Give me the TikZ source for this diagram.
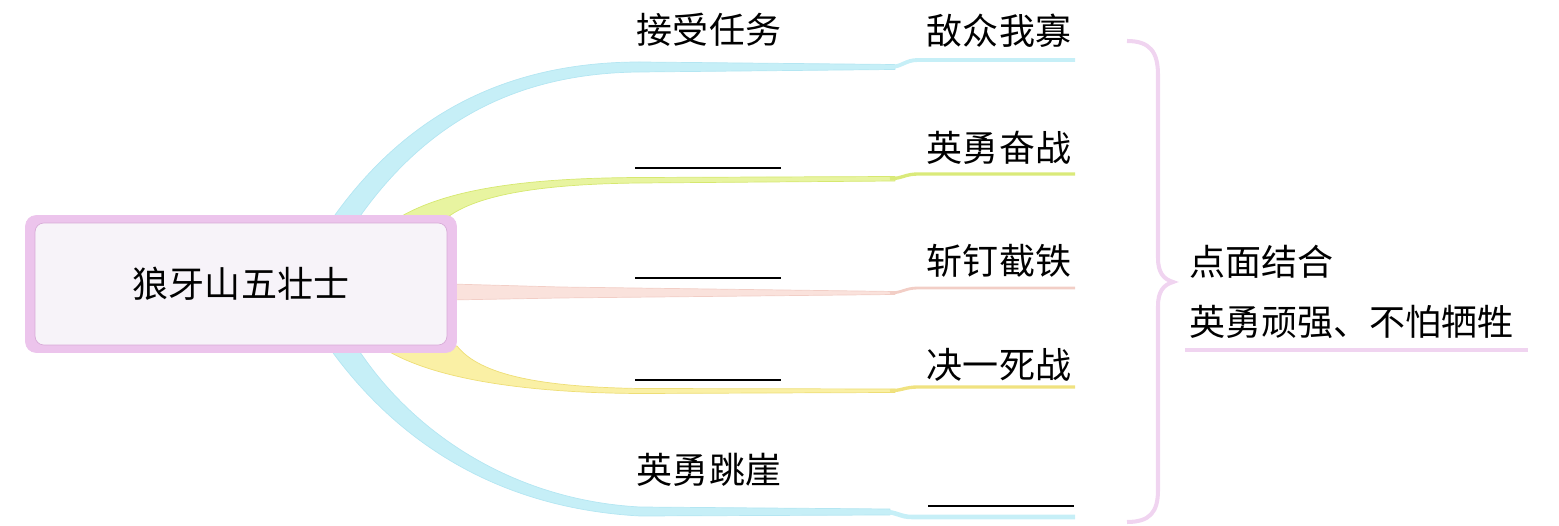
\documentclass[tikz,border=0pt]{standalone}
\usepackage{fontspec}
\setmainfont{Noto Sans CJK SC}
\usepackage{tikz}
\usetikzlibrary{positioning, calc, backgrounds}
\usepackage{xcolor}
\definecolor{BranchCyan}{RGB}{198, 239, 247}
\definecolor{CyanEdge}{RGB}{180, 230, 242}
\definecolor{BranchLime}{RGB}{232, 244, 160}
\definecolor{LimeEdge}{RGB}{214, 232, 112}
\definecolor{BranchRose}{RGB}{250, 226, 220}
\definecolor{RoseEdge}{RGB}{242, 206, 198}
\definecolor{BranchSand}{RGB}{250, 240, 165}
\definecolor{SandEdge}{RGB}{238, 222, 118}
\definecolor{RootPink}{RGB}{236, 196, 236}
\definecolor{RootLine}{RGB}{216, 172, 216}
\definecolor{RootBg}{RGB}{247, 243, 249}
\definecolor{BracePink}{RGB}{240, 212, 240}

\begin{document}
\begin{tikzpicture}[
    x=0.02cm, y=-0.02cm,
    rootbox/.style={draw=RootPink, fill=RootPink, rounded corners=6pt, minimum width=8.62cm, minimum height=2.74cm, inner sep=0pt},
    rootin/.style={draw=RootLine, fill=RootBg, rounded corners=5pt, minimum width=8.24cm, minimum height=2.44cm, font=\fontsize{20.5}{24}\selectfont},
    leaf/.style={inner sep=0pt, font=\fontsize{20.5}{24}\selectfont},
    blank/.style={inner sep=0pt, minimum width=2.92cm, minimum height=0.8pt, fill=black},
    limb/.style={line width=0.4pt, line join=round},
    twig/.style={line cap=butt, line width=2.2pt},
    brace/.style={draw=BracePink, line width=2.3pt}
]
\useasboundingbox (0,0) rectangle (1559,526);

\node[rootbox] (root) at (241,284) {};
\node[rootin] (rootin) at (root.center) {狼牙山五壮士};

\node[leaf] (task) at (709,30) {接受任务};
\node[leaf] (enemy) at (999,31) {敌众我寡};
\node[blank] (k1) at (708,168) {};
\node[leaf] (fight) at (999,148) {英勇奋战};
\node[blank] (k2) at (708,278) {};
\node[leaf] (firm) at (999,261) {斩钉截铁};
\node[blank] (k3) at (708,380) {};
\node[leaf] (death) at (999,365) {决一死战};
\node[leaf] (jump) at (709,470) {英勇跳崖};
\node[blank] (k4) at (1001,506) {};

\coordinate (e1) at (1075,60);
\coordinate (e2) at (1075,174);
\coordinate (e3) at (1075,288);
\coordinate (e4) at (1075,387);
\coordinate (e5) at (1075,517);

\begin{scope}[on background layer]
    % top cyan
    \filldraw[limb, fill=BranchCyan, draw=CyanEdge] (330,222) .. controls (398,124) and (495,62) .. (640,62) -- (895,64.5) -- (895,69.5) -- (640,72) .. controls (505,73) and (418,132) .. (356,222) -- cycle;
    \draw[twig, BranchCyan] (890,67) .. controls (902,67) and (905,60) .. (918,60) -- (e1);
    % lime
    \filldraw[limb, fill=BranchLime, draw=LimeEdge] (392,222) .. controls (440,190) and (520,178) .. (640,177.5) -- (895,176.5) -- (895,181) -- (640,183) .. controls (540,184) and (470,195) .. (442,222) -- cycle;
    \draw[twig, LimeEdge!80!BranchLime, line width=1.9pt] (890,178.7) .. controls (902,178.7) and (905,174) .. (918,174) -- (e2);
    % rose
    \filldraw[limb, fill=BranchRose, draw=RoseEdge] (450,284) -- (560,287) -- (895,291.5) -- (895,294.5) -- (560,298) -- (450,300) -- cycle;
    \draw[twig, RoseEdge, line width=1.6pt] (890,293) .. controls (902,293) and (905,288) .. (918,288) -- (e3);
    % sand
    \filldraw[limb, fill=BranchSand, draw=SandEdge] (380,346) .. controls (430,380) and (530,393) .. (640,393.5) -- (895,392.5) -- (895,389) -- (640,388.5) .. controls (540,387) and (480,375) .. (457,346) -- cycle;
    \draw[twig, SandEdge!80!BranchSand, line width=1.9pt] (890,390.7) .. controls (902,390.7) and (905,387) .. (918,387) -- (e4);
    % bottom cyan
    \filldraw[limb, fill=BranchCyan, draw=CyanEdge] (328,346) .. controls (395,440) and (495,508) .. (640,516) -- (890,515) -- (890,509) -- (640,507) .. controls (510,500) and (410,430) .. (356,346) -- cycle;
    \draw[twig, BranchCyan, line width=2.6pt] (885,512) .. controls (897,512) and (900,517) .. (912,517) -- (e5);
\end{scope}

% brace
\coordinate (bt) at (1127,41);
\coordinate (bb) at (1127,522);
\coordinate (bp) at (1173,282);
\draw[brace] (bt) .. controls (1150,41) and (1158,52) .. (1158,75) -- (1158,258) .. controls (1158,272) and (1163,279) .. (bp) .. controls (1163,285) and (1158,292) .. (1158,306) -- (1158,490) .. controls (1158,512) and (1150,522) .. (bb);

\node[leaf, anchor=west] (dot) at (1189,262) {点面结合};
\node[leaf, anchor=west] (brave) at (1189,322) {英勇顽强、不怕牺牲};
\coordinate (u1) at (1185,350);
\coordinate (u2) at (1528,350);
\draw[BracePink, line width=2.2pt] (u1) -- (u2);
\end{tikzpicture}
\end{document}
